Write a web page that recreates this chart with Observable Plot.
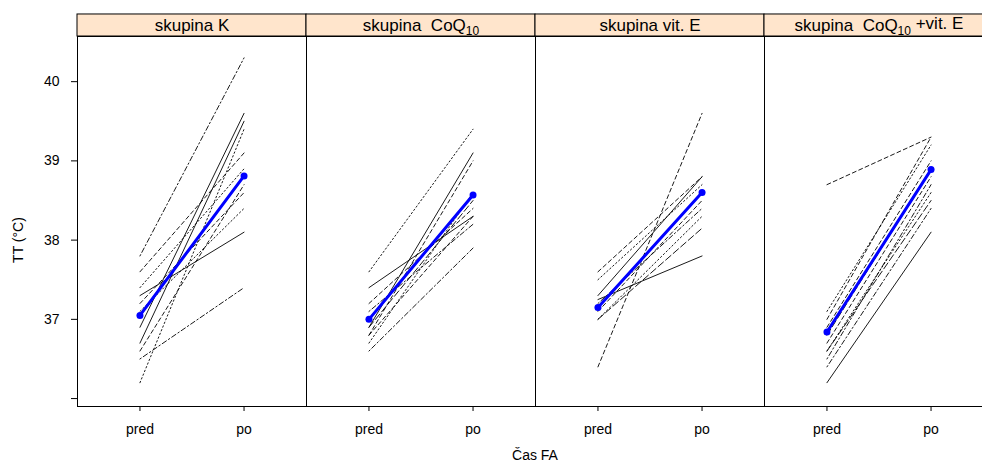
<!DOCTYPE html>
<html>
<head>
<meta charset="utf-8">
<script src="https://cdn.jsdelivr.net/npm/d3@7"></script>
<script src="https://cdn.jsdelivr.net/npm/@observablehq/plot@0.6"></script>
<style>
  body { margin: 0; background: #fff; }
  #wrap { position: relative; width: 982px; height: 464px; overflow: hidden; font-family: "Liberation Sans", Arial, sans-serif; }
  #chart { position: absolute; left: 0; top: 0; width: 994px; }
  #chart svg { max-width: none !important; }
  .lab { position: absolute; font-size: 14px; color: #000; white-space: nowrap; line-height: 16px; }
</style>
</head>
<body>
<div id="wrap">
  <div id="chart"></div>
  <div class="lab" id="ylab" style="left:18px; top:240px; transform: translate(-50%,-50%) rotate(-90deg);">TT (°C)</div>
  <div class="lab" id="xlab" style="left:535px; top:447px; transform: translateX(-50%);">Čas FA</div>
</div>
<script>
// Panels (groups)
const groups = ["skupina K", "skupina CoQ10", "skupina vit. E", "skupina CoQ10 +vit. E"];
// Time points
const timeLabels = ["pred", "po"];
// Y tick values
const yTicks = [36, 37, 38, 39, 40];

// Individual values (before / after), per group
const predK   = [37.8, 37.6, 37.4, 37.3, 37.2, 37.1, 36.9, 36.7, 36.6, 36.5, 36.2];
const poK     = [40.3, 39.1, 38.9, 38.1, 38.6, 38.4, 39.6, 39.5, 38.7, 37.4, 39.4];
const predQ   = [37.6, 37.4, 37.2, 37.1, 36.9, 36.8, 36.7, 36.6, 36.8, 36.9];
const poQ     = [39.4, 38.3, 38.4, 38.2, 39.1, 39.0, 38.6, 37.9, 38.3, 38.5];
const predE   = [37.6, 37.5, 37.3, 37.25, 37.2, 37.1, 37.0, 37.0, 36.4];
const poE     = [38.8, 38.7, 38.8, 37.8, 38.4, 38.5, 38.3, 38.15, 39.6];
const predQE  = [38.7, 37.0, 37.1, 36.9, 36.8, 36.7, 36.6, 36.5, 36.4, 36.2, 36.6];
const poQE    = [39.3, 39.3, 39.2, 39.0, 38.9, 38.8, 38.6, 38.7, 38.4, 38.1, 38.5];

// Group means (blue line)
const meanPred = [37.05, 37.0, 37.15, 36.84];
const meanPo   = [38.81, 38.57, 38.6, 38.89];

// Line type index per individual (style only)
const ltyK  = [3, 1, 2, 0, 1, 2, 0, 0, 1, 3, 2];
const ltyQ  = [2, 0, 1, 3, 0, 1, 2, 3, 1, 4];
const ltyE  = [1, 2, 0, 0, 3, 1, 2, 4, 1];
const ltyQE = [1, 1, 2, 1, 4, 1, 2, 3, 3, 0, 4];
const dashes = ["none", "4,3", "1.5,2.5", "1.5,2.5,5,2.5", "7,3"];

const preds = [predK, predQ, predE, predQE];
const pos = [poK, poQ, poE, poQE];
const ltys = [ltyK, ltyQ, ltyE, ltyQE];

const rows = [];
groups.forEach((g, gi) => {
  preds[gi].forEach((v, i) => {
    const id = g + "-" + i;
    rows.push({group: g, id, t: 1, v, lty: ltys[gi][i]});
    rows.push({group: g, id, t: 2, v: pos[gi][i], lty: ltys[gi][i]});
  });
});
const meanRows = [];
groups.forEach((g, gi) => {
  meanRows.push({group: g, t: 1, v: meanPred[gi]});
  meanRows.push({group: g, t: 2, v: meanPo[gi]});
});
const stripData = groups.map(g => ({group: g, label: g}));

const yDomain = [35.9, 40.57];
const stripTop = 40.848;

const lineMarks = dashes.map((d, k) =>
  Plot.line(rows.filter(r => r.lty === k), {
    x: "t", y: "v", z: "id", fx: "group",
    stroke: "black", strokeWidth: 0.9, strokeDasharray: d === "none" ? null : d
  })
);

const chart = Plot.plot({
  width: 994,
  height: 464,
  marginLeft: 77,
  marginRight: 1,
  marginTop: 36,
  marginBottom: 58,
  style: {fontFamily: "'Liberation Sans', Arial, sans-serif", fontSize: "14px", background: "white", overflow: "visible", maxWidth: "none"},
  fx: {domain: groups, padding: 0, axis: null},
  x: {domain: [0.4, 2.6], ticks: [1, 2], tickFormat: d => timeLabels[d - 1], tickSize: 5, tickPadding: 13, label: null},
  y: {domain: yDomain, range: [406, 36], ticks: yTicks, tickFormat: d => d === 36 ? "" : String(d), tickSize: 6, tickPadding: 12, label: null},
  marks: [
    ...lineMarks,
    Plot.line(meanRows, {x: "t", y: "v", fx: "group", stroke: "#0000ff", strokeWidth: 3}),
    Plot.dot(meanRows, {x: "t", y: "v", fx: "group", fill: "#0000ff", r: 3.5}),
    Plot.frame({stroke: "black", strokeWidth: 1}),
    Plot.rect(stripData, {fx: "group", y1: yDomain[1], y2: stripTop, fill: "#ffe5cc", stroke: "black", strokeWidth: 1}),
    Plot.text(stripData, {fx: "group", text: "label", frameAnchor: "top", dy: -11, lineAnchor: "middle", fontSize: 17, fill: "black", className: "strip-label"})
  ]
});
chart.style.maxWidth = "none";
document.getElementById("chart").appendChild(chart);

// Render "CoQ10" with subscript
d3.select(chart).selectAll("text").each(function() {
  const t = this.textContent;
  if (t.includes("CoQ10")) {
    const sel = d3.select(this);
    const [before, after] = t.split("CoQ10");
    sel.text("");
    sel.append("tspan").text(before.replace("skupina ", "skupina\u00a0\u00a0") + "CoQ");
    sel.append("tspan").attr("font-size", 12).attr("dy", "0.3em").text("10");
    if (after) sel.append("tspan").attr("dy", "-0.3em").text(after.replace(" +", "\u00a0+"));
  }
});
</script>
</body>
</html>
